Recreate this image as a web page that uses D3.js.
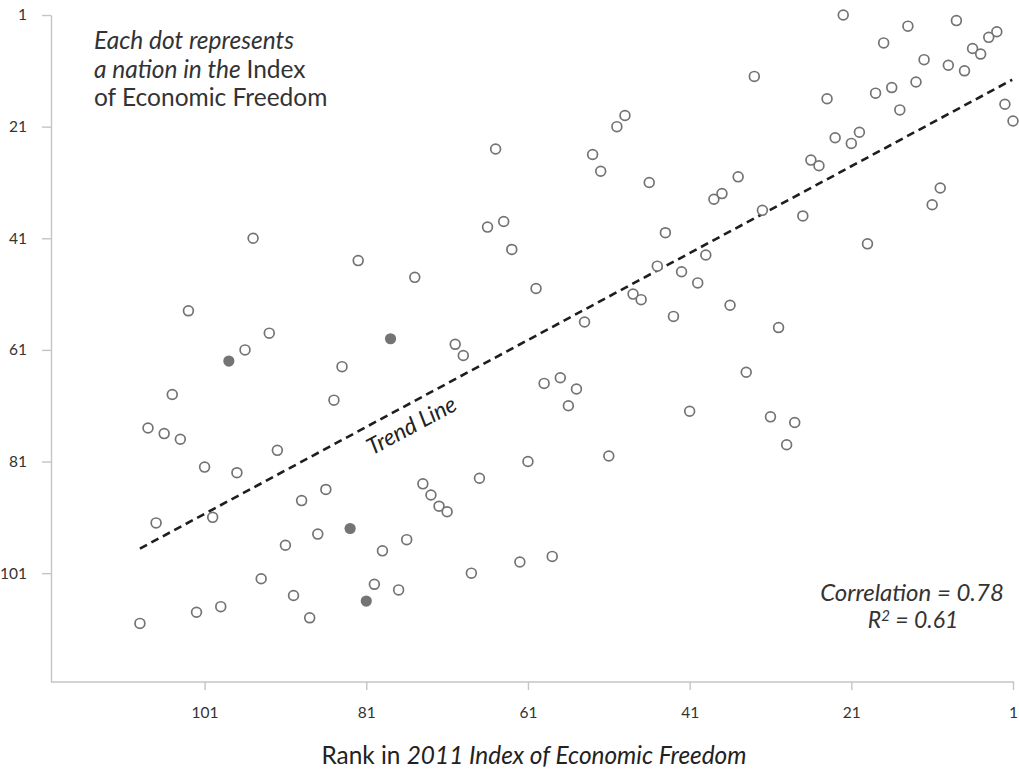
<!DOCTYPE html>
<html lang="en">
<head>
  <meta charset="UTF-8">
  <title>Economic Freedom rank scatter</title>
  <style>
    body { margin: 0; background: #fff; }
    text { font-family: Lato, "Open Sans", sans-serif; }
  </style>
</head>
<body>
  <svg id="svg" width="1019" height="773"></svg>

  <script src="https://d3js.org/d3.v7.min.js"></script>
  <script>
    // rank in the 2011 Index (x) and the other ranking (y), one entry per nation
    const xRank = [49,50,65,53,52,46,38,37,22,14,8,17,3,4,6,5,12,9,7,13,16,18,33,24,15,2,1,23,20,21,26,25,35,32,27,10,11,
      95,82,75,103,93,96,98,78,84,105,85,108,106,104,92,66,64,63,60,44,39,45,42,40,48,47,43,54,70,69,59,57,55,56,41,19,36,30,34,31,28,29,
      101,97,86,89,100,107,83,87,91,79,76,94,80,77,81,90,99,102,88,109,74,73,72,71,67,61,51,68,62,58]
    const yRank = [19,21,25,26,29,31,34,33,1,3,2,6,4,5,7,8,9,10,11,13,14,15,12,16,18,17,20,23,22,24,27,28,30,36,37,32,35,
      41,45,48,54,58,61,63,59,64,69,70,75,76,77,79,39,38,43,50,40,44,46,47,49,51,52,55,56,60,62,67,66,68,71,72,42,53,57,65,73,74,78,
      82,83,86,88,91,92,93,94,96,97,95,102,103,104,106,105,107,108,109,110,85,87,89,90,84,81,80,101,99,98]
    // nations drawn as solid dots (by x rank)
    const highlighted = [98, 78, 83, 81]

    const xTicks = [101, 81, 61, 41, 21, 1]
    const yTicks = [1, 21, 41, 61, 81, 101]

    // trend line end points (x rank, y rank)
    const trendX = [109, 1.1]
    const trendY = [96.6, 12.6]

    const data = xRank.map((x, i) => ({ x: x, y: yRank[i], hl: highlighted.includes(x) }))

    const svg = d3.select('#svg')

    const xscale = d3.scaleLinear().domain([120, 1]).range([51, 1013])
    const yscale = d3.scaleLinear().domain([1, 120.5]).range([15, 682])

    // axes
    const bottomAxis = d3.axisBottom(xscale).tickValues(xTicks).tickSizeInner(8).tickSizeOuter(0).tickPadding(17)
    const leftAxis = d3.axisLeft(yscale).tickValues(yTicks).tickSizeInner(9).tickSizeOuter(0).tickPadding(15)

    const gx = svg.append('g')
      .attr('transform', `translate(0, 682)`)
      .call(bottomAxis)
    const gy = svg.append('g')
      .attr('transform', `translate(51, 0)`)
      .call(leftAxis)

    gx.select('.domain').attr('d', 'M51,0H1014')
    svg.selectAll('.domain, .tick line').attr('stroke', '#c4c4c4').attr('stroke-width', 1.4)
    svg.selectAll('.tick text')
      .attr('fill', '#333')
      .style('font-size', '15.5px')
      .style('font-family', 'Lato, sans-serif')

    // trend line
    svg.append('line')
      .attr('x1', xscale(trendX[0])).attr('y1', yscale(trendY[0]))
      .attr('x2', xscale(trendX[1])).attr('y2', yscale(trendY[1]))
      .attr('stroke', '#1e1e1e')
      .attr('stroke-width', 2.6)
      .attr('stroke-dasharray', '8,5')

    const angle = Math.atan2(yscale(trendY[1]) - yscale(trendY[0]), xscale(trendX[1]) - xscale(trendX[0])) * 180 / Math.PI
    const lx = 402
    const ly = yscale(trendY[0]) + (lx - xscale(trendX[0])) * (yscale(trendY[1]) - yscale(trendY[0])) / (xscale(trendX[1]) - xscale(trendX[0]))
    svg.append('text')
      .attr('transform', `translate(${lx}, ${ly}) rotate(${angle})`)
      .attr('text-anchor', 'middle')
      .attr('dy', 28)
      .style('font-size', '23px')
      .style('font-style', 'italic')
      .attr('fill', '#222')
      .text('Trend Line')

    // dots
    svg.append('g')
      .selectAll('circle')
      .data(data)
      .enter()
      .append('circle')
      .attr('cx', d => xscale(d.x))
      .attr('cy', d => yscale(d.y))
      .attr('r', d => d.hl ? 5.6 : 4.9)
      .attr('fill', d => d.hl ? '#747474' : '#fff')
      .attr('stroke', d => d.hl ? 'none' : '#737373')
      .attr('stroke-width', 1.7)

    // note, top left
    const note = svg.append('text')
      .attr('x', 94).attr('y', 49)
      .attr('fill', '#333')
      .style('font-size', '24.5px')
    note.append('tspan').attr('x', 94).style('font-style', 'italic').text('Each dot represents')
    const l2 = note.append('tspan').attr('x', 94).attr('dy', 28.5)
    l2.append('tspan').style('font-style', 'italic').text('a nation in the ')
    l2.append('tspan').text('Index')
    note.append('tspan').attr('x', 94).attr('dy', 28.5).text('of Economic Freedom')

    // stats, bottom right
    svg.append('text')
      .attr('x', 912).attr('y', 601)
      .attr('text-anchor', 'middle')
      .attr('fill', '#333')
      .style('font-size', '24px')
      .style('font-style', 'italic')
      .text('Correlation = 0.78')
    const r2 = svg.append('text')
      .attr('x', 913).attr('y', 628)
      .attr('text-anchor', 'middle')
      .attr('fill', '#333')
      .style('font-size', '23px')
      .style('font-style', 'italic')
    r2.append('tspan').text('R')
    r2.append('tspan').attr('dy', -7).style('font-size', '15px').text('2')
    r2.append('tspan').attr('dy', 7).text('\u00a0= 0.61')

    // x axis title
    const title = svg.append('text')
      .attr('x', 534).attr('y', 764)
      .attr('text-anchor', 'middle')
      .attr('fill', '#222')
      .style('font-size', '24.4px')
    title.append('tspan').text('Rank in ')
    title.append('tspan').style('font-style', 'italic').text('2011 Index of Economic Freedom')
  </script>
</body>
</html>
